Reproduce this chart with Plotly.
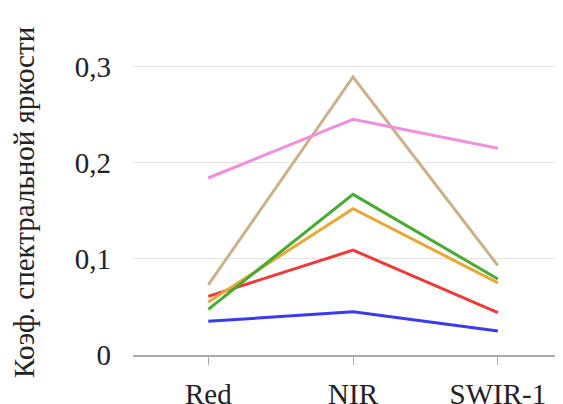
import plotly.graph_objects as go

categories = ["Red", "NIR", "SWIR-1"]
pink = [0.184, 0.245, 0.215]
tan = [0.073, 0.289, 0.093]
green = [0.0475, 0.167, 0.079]
orange = [0.055, 0.152, 0.075]
red = [0.061, 0.109, 0.044]
blue = [0.035, 0.045, 0.025]
y_ticks = [0, 0.1, 0.2, 0.3]
y_labels = ["0", "0,1", "0,2", "0,3"]

series = [
    (blue, "#3a3af0"),
    (red, "#f03a3a"),
    (orange, "#e8a838"),
    (green, "#48aa30"),
    (tan, "#c9b18c"),
    (pink, "#f090dc"),
]

fig = go.Figure()
for vals, col in series:
    fig.add_trace(go.Scatter(x=[0, 1, 2], y=vals, mode="lines",
                             line=dict(color=col, width=3), showlegend=False))

font = "Liberation Serif, Times New Roman, serif"
# page body has an 8px margin: figure drawn from (8,8)
fig.update_layout(
    width=555, height=396,
    margin=dict(l=125, r=0, t=0, b=49, autoexpand=False),
    plot_bgcolor="white", paper_bgcolor="white",
    font=dict(family=font, size=29, color="#222"),
    xaxis=dict(range=[-0.52, 2.45], tickvals=[0, 1, 2], ticktext=categories,
               showgrid=False, zeroline=False, showline=True,
               linecolor="#aaaaaa", linewidth=1.5,
               ticks="outside", ticklen=8, tickcolor="#aaaaaa",
               ticklabelstandoff=4,
               tickfont=dict(size=29, family=font, color="#222")),
    yaxis=dict(range=[0, 0.3607], tickvals=y_ticks, ticktext=y_labels,
               showgrid=True, gridcolor="#e4e4e4", gridwidth=1.2,
               zeroline=False, showline=False, ticks="",
               ticklabelstandoff=21,
               tickfont=dict(size=29, family=font, color="#222")),
    annotations=[dict(text="Коэф. спектральной яркости", xref="paper", yref="paper",
                      x=(24 - 133) / 430, y=(355 - 203) / 347, xanchor="center",
                      yanchor="middle", textangle=-90, showarrow=False,
                      font=dict(size=29, family=font, color="#222"))],
)
fig.write_html("out.html")
